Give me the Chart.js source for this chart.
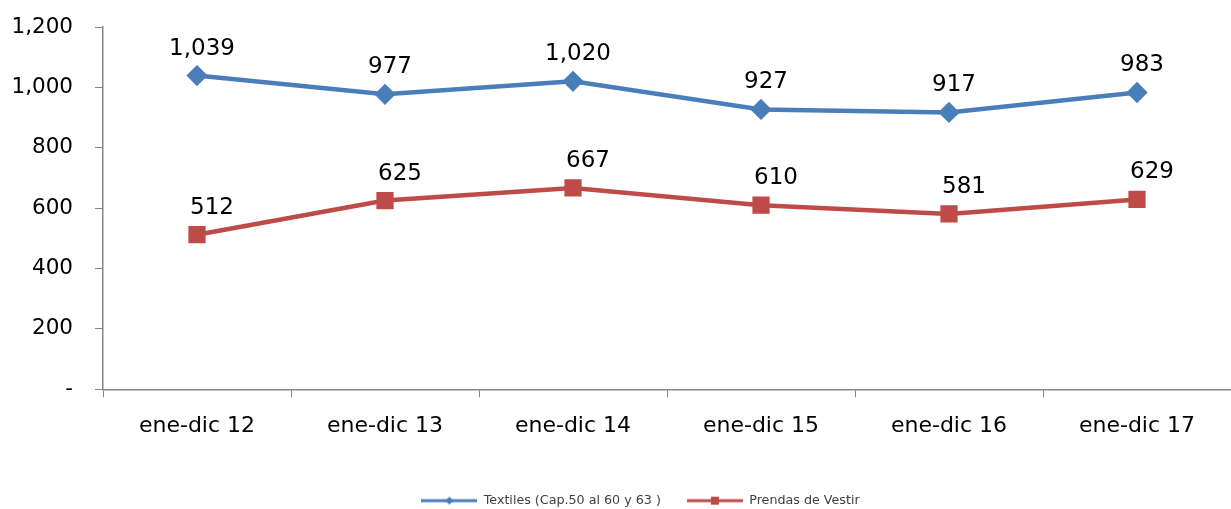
<!DOCTYPE html>
<html>
<head>
<meta charset="utf-8">
<script src="https://cdn.jsdelivr.net/npm/chart.js@4"></script>
<style>
html, body { margin: 0; padding: 0; background: #fff; }
#wrap { width: 1231px; height: 509px; }
</style>
</head>
<body>
<div id="wrap"><canvas id="grafico"></canvas></div>
<script>
// datos del gráfico
var categorias = ['ene-dic 12', 'ene-dic 13', 'ene-dic 14', 'ene-dic 15', 'ene-dic 16', 'ene-dic 17'];
var textiles = [1039, 977, 1020, 927, 917, 983];
var prendas = [512, 625, 667, 610, 581, 629];
var nombreTextiles = 'Textiles (Cap.50 al 60 y 63 )';
var nombrePrendas = 'Prendas de Vestir';

var azul = '#4A7EBB';
var rojo = '#BE4B48';
var gris = '#868686';
var fuente = "'DejaVu Sans', sans-serif";

function fmt(v) {
    if (v === 0) return '-';
    return v.toLocaleString('en-US');
}

// icono de la leyenda: línea con marcador
function iconoLeyenda(color, forma) {
    var c = document.createElement('canvas');
    c.width = 56; c.height = 12;
    var g = c.getContext('2d');
    g.strokeStyle = color;
    g.lineWidth = 3;
    g.beginPath();
    g.moveTo(0, 6); g.lineTo(56, 6);
    g.stroke();
    g.fillStyle = color;
    if (forma == 'rombo') {
        g.beginPath();
        g.moveTo(28, 2); g.lineTo(32, 6); g.lineTo(28, 10); g.lineTo(24, 6);
        g.closePath(); g.fill();
    } else {
        g.fillRect(24, 2, 8, 8);
    }
    return c;
}

// etiquetas de datos encima de cada punto
var etiquetas = {
    id: 'etiquetas',
    afterLayout: function(chart) {
        // la leyenda va un poco a la derecha, como en el original
        chart.legend.left += 25;
        chart.legend.right += 25;
    },
    afterDatasetsDraw: function(chart) {
        var ctx = chart.ctx;
        ctx.save();
        ctx.font = '23px ' + fuente;
        ctx.fillStyle = '#000';
        ctx.textAlign = 'center';
        ctx.textBaseline = 'middle';
        chart.data.datasets.forEach(function(ds, i) {
            var meta = chart.getDatasetMeta(i);
            var dx = i == 0 ? 5 : 15;
            meta.data.forEach(function(p, j) {
                ctx.fillText(fmt(ds.data[j]), p.x + dx, p.y - 27);
            });
        });
        ctx.restore();
    }
};

var ctx = document.getElementById('grafico').getContext('2d');
var grafico = new Chart(ctx, {
    type: 'line',
    data: {
        labels: categorias,
        datasets: [{
            label: nombreTextiles,
            data: textiles,
            borderColor: azul,
            backgroundColor: azul,
            borderWidth: 4.5,
            pointStyle: 'rectRot',
            pointRadius: 7.5,
            pointHoverRadius: 7.5,
            tension: 0
        }, {
            label: nombrePrendas,
            data: prendas,
            borderColor: rojo,
            backgroundColor: rojo,
            borderWidth: 4.5,
            pointStyle: 'rect',
            pointRadius: 9,
            pointHoverRadius: 9,
            tension: 0
        }]
    },
    options: {
        responsive: true,
        maintainAspectRatio: false,
        animation: false,
        layout: {
            autoPadding: false,
            padding: { top: 27, right: 0, left: 0, bottom: -8 }
        },
        plugins: {
            tooltip: { enabled: false },
            legend: {
                position: 'bottom',
                labels: {
                    font: { family: fuente, size: 12.7 },
                    color: '#404040',
                    usePointStyle: true,
                    pointStyleWidth: 56,
                    padding: 26,
                    generateLabels: function(chart) {
                        var iconos = [iconoLeyenda(azul, 'rombo'), iconoLeyenda(rojo, 'cuadro')];
                        return chart.data.datasets.map(function(ds, i) {
                            return {
                                text: ds.label,
                                pointStyle: iconos[i],
                                fillStyle: ds.borderColor,
                                strokeStyle: ds.borderColor,
                                lineWidth: 0,
                                fontColor: '#404040',
                                datasetIndex: i
                            };
                        });
                    }
                }
            }
        },
        scales: {
            x: {
                offset: true,
                grid: {
                    offset: true,
                    drawOnChartArea: false,
                    color: gris,
                    tickLength: 8
                },
                border: { color: gris, width: 1.5 },
                ticks: {
                    color: '#000',
                    font: { family: fuente, size: 22 },
                    padding: 16,
                    maxRotation: 0
                },
                afterFit: function(s) {
                    s.height = 79;
                    s.paddingLeft = 0;
                    s.paddingRight = 0;
                }
            },
            y: {
                min: 0,
                max: 1200,
                grid: {
                    drawOnChartArea: false,
                    color: gris,
                    tickLength: 8
                },
                border: { color: gris, width: 1.5 },
                ticks: {
                    stepSize: 200,
                    color: '#000',
                    font: { family: fuente, size: 21.5 },
                    padding: 22,
                    callback: function(v) { return fmt(v); }
                },
                afterFit: function(s) {
                    s.width = 103;
                    s.paddingTop = 0;
                    s.paddingBottom = 0;
                }
            }
        }
    },
    plugins: [etiquetas]
});
</script>
</body>
</html>
